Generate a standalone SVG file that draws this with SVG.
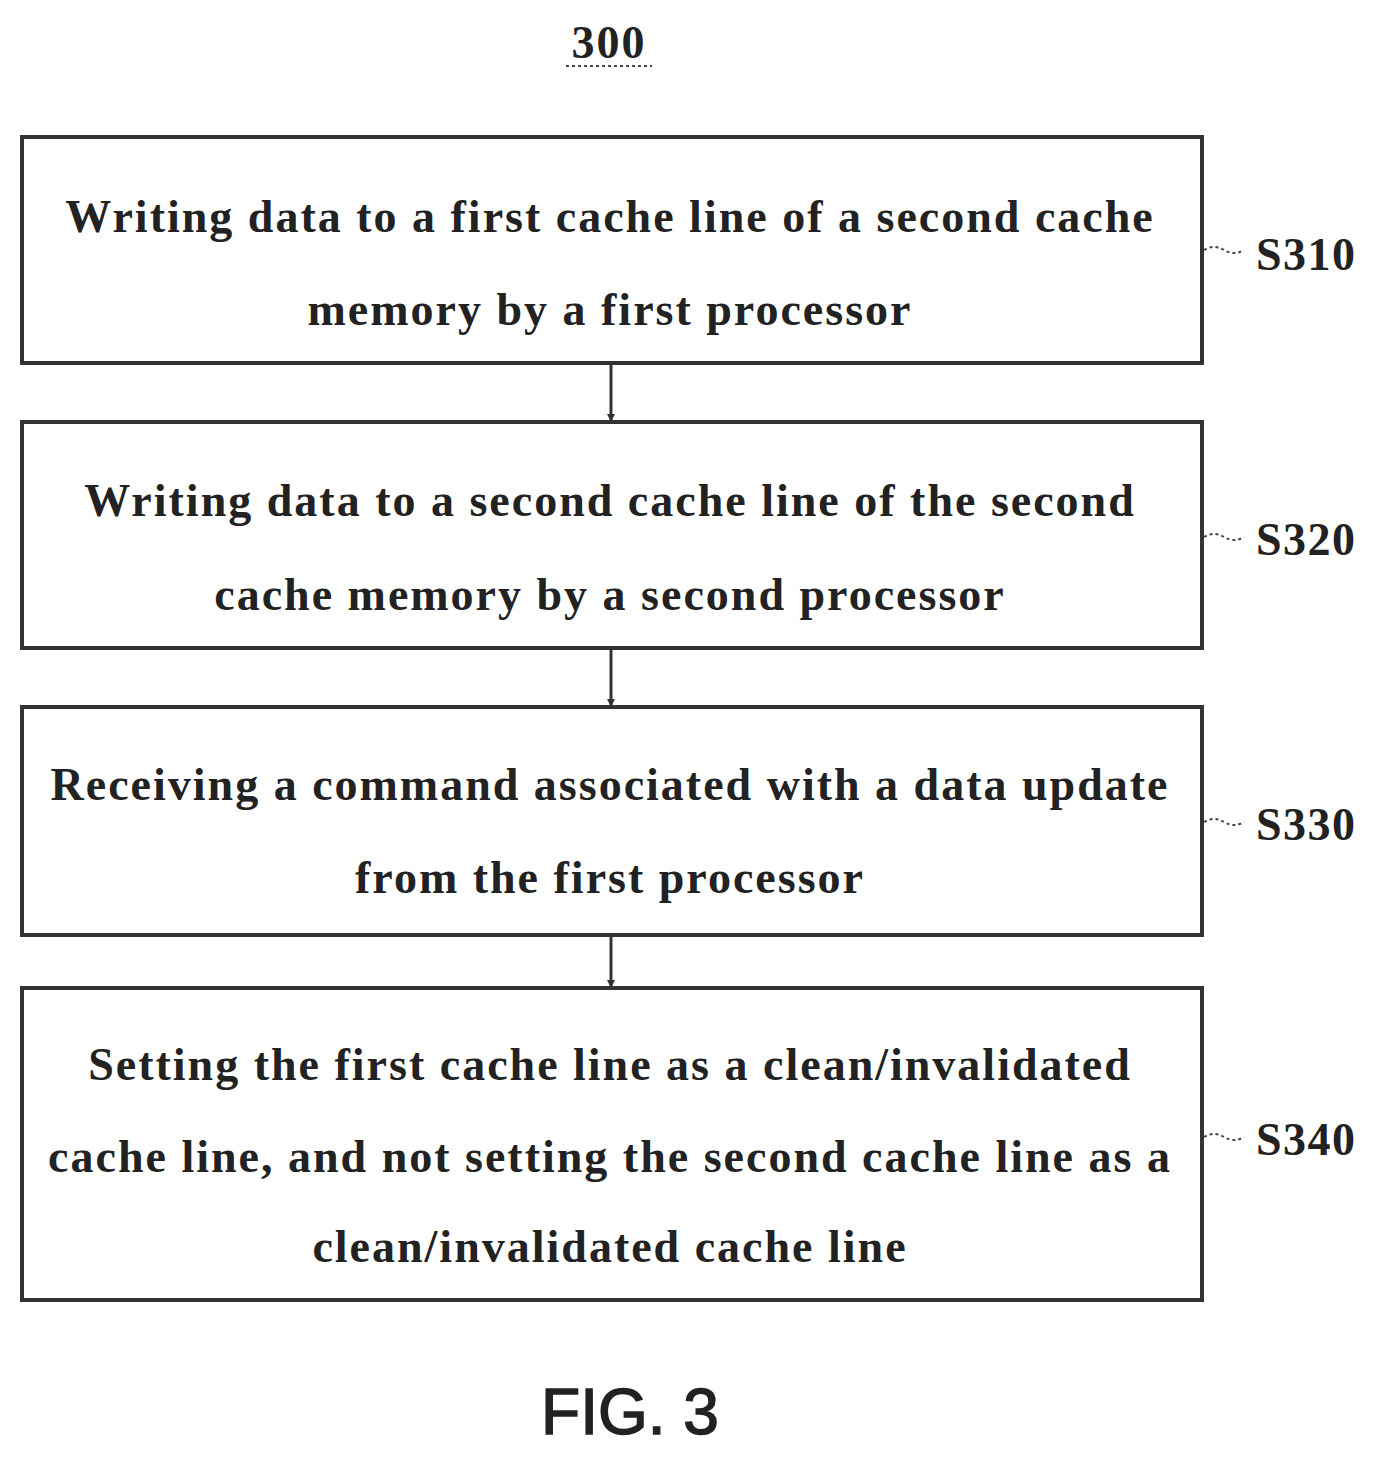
<svg xmlns="http://www.w3.org/2000/svg" width="1382" height="1458" viewBox="0 0 1382 1458">
<style>
.box{fill:#fff;stroke:#333;stroke-width:4}
.t{font-family:"Liberation Serif",serif;font-weight:bold;font-size:46px;letter-spacing:2px;fill:#222;text-anchor:middle}
.lab{font-family:"Liberation Serif",serif;font-weight:bold;font-size:46px;letter-spacing:1.5px;fill:#222}
.lead{fill:none;stroke:#444;stroke-width:2;stroke-dasharray:3 3}
.con{stroke:#333;stroke-width:3;fill:none}
</style>
<defs><marker id="ah" markerWidth="8" markerHeight="8" refX="6" refY="4" orient="auto" markerUnits="userSpaceOnUse"><path d="M0,0 L8,4 L0,8 z" fill="#333"/></marker></defs>
<rect width="1382" height="1458" fill="#fff"/>
<text x="609" y="58" class="t" font-size="50">300</text>
<line x1="566" y1="66" x2="652" y2="66" class="lead"/>
<g id="n1"><rect x="22" y="137" width="1180" height="226" class="box"/>
<text class="t" x="610" y="232">Writing data to a first cache line of a second cache</text>
<text class="t" x="610" y="325">memory by a first processor</text></g>
<g id="n2"><rect x="22" y="422" width="1180" height="226" class="box"/>
<text class="t" x="610" y="516">Writing data to a second cache line of the second</text>
<text class="t" x="610" y="610">cache memory by a second processor</text></g>
<g id="n3"><rect x="22" y="707" width="1180" height="228" class="box"/>
<text class="t" x="610" y="800">Receiving a command associated with a data update</text>
<text class="t" x="610" y="893">from the first processor</text></g>
<g id="n4"><rect x="22" y="988" width="1180" height="312" class="box"/>
<text class="t" x="610" y="1080">Setting the first cache line as a clean/invalidated</text>
<text class="t" x="610" y="1172">cache line, and not setting the second cache line as a</text>
<text class="t" x="610" y="1262">clean/invalidated cache line</text></g>
<g id="labels">
<text class="lab" x="1256" y="270">S310</text>
<text class="lab" x="1256" y="555">S320</text>
<text class="lab" x="1256" y="840">S330</text>
<text class="lab" x="1256" y="1155">S340</text>
</g>
<g id="connectors">
<path class="lead" d="M1204,250 q10,-6 20,0 t20,0"/>
<path class="lead" d="M1204,537 q10,-6 20,0 t20,0"/>
<path class="lead" d="M1204,822 q10,-6 20,0 t20,0"/>
<path class="lead" d="M1204,1137 q10,-6 20,0 t20,0"/>
<line class="con" x1="611" y1="365" x2="611" y2="420" marker-end="url(#ah)"/>
<line class="con" x1="611" y1="650" x2="611" y2="705" marker-end="url(#ah)"/>
<line class="con" x1="611" y1="937" x2="611" y2="986" marker-end="url(#ah)"/>
</g>
<text x="630" y="1434" font-family="Liberation Sans,sans-serif" font-size="64" fill="#222" stroke="#222" stroke-width="1.5" text-anchor="middle">FIG. 3</text>
</svg>
